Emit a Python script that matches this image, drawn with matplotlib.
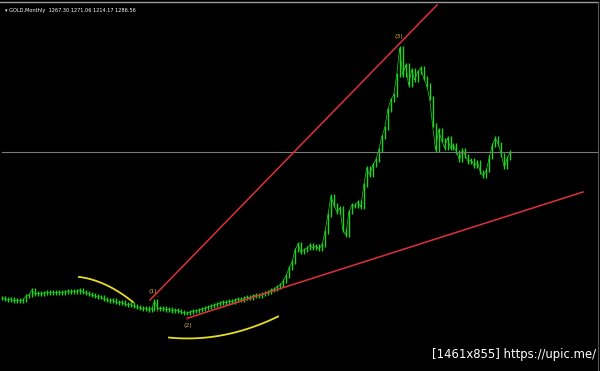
import matplotlib
matplotlib.use("Agg")
import matplotlib.pyplot as plt
import numpy as np

# Fechamentos (aprox.) das barras do GOLD mensal
fechamentos = [
    404, 398, 392, 398, 386, 392, 386, 392, 416, 422,
    452, 428, 434, 428, 434, 440, 434, 440, 434, 440,
    434, 440, 446, 440, 446, 440, 452, 440, 434, 428,
    422, 416, 410, 410, 398, 392, 386, 392, 380, 374,
    380, 368, 362, 368, 356, 350, 344, 338, 344, 332,
    338, 386, 344, 338, 344, 332, 338, 326, 332, 326,
    320, 314, 314, 320, 326, 326, 332, 338, 344, 350,
    356, 362, 368, 374, 380, 374, 386, 380, 392, 398,
    392, 404, 410, 404, 416, 422, 416, 428, 434, 440,
    452, 458, 470, 482, 506, 536, 584, 620, 692, 728,
    680, 692, 704, 722, 704, 716, 698, 722, 800, 902,
    1016, 962, 920, 944, 812, 782, 920, 962, 956, 980,
    950, 1082, 1184, 1142, 1202, 1232, 1292, 1370, 1424, 1532,
    1592, 1622, 1742, 1904, 1742, 1802, 1682, 1772, 1712, 1760,
    1784, 1724, 1682, 1604, 1442, 1292, 1412, 1352, 1304, 1364,
    1304, 1322, 1280, 1232, 1292, 1256, 1220, 1232, 1196, 1220,
    1160, 1136, 1172, 1250, 1322, 1364, 1328, 1262, 1190, 1244,
    1280,
]
preco_atual = 1280
titulo = "GOLD,Monthly  1267.30 1271.06 1214.17 1286.56"
marca = "[1461x855] https://upic.me/"

# Ondas marcadas (barra, preço)
ondas = {"(1)": (50.5, 440), "(2)": (62, 236), "(3)": (132.8, 1970)}
linha_sup = [(49.5, 392), (145.5, 2162)]
linha_inf = [(62.2, 284), (194.3, 1040)]

VERDE = "#1fd21f"
VERMELHO = "#e0303a"
AMARELO = "#e6dc28"
LARANJA = "#d8b040"


def px(x, y):
    """Converte pixel da tela para coordenadas do gráfico."""
    return (x - 2) / 2.99, 2192 - 6 * y


fig = plt.figure(figsize=(6, 3.71), dpi=100, facecolor="black")
ax = fig.add_axes([0, 0, 1, 1])
ax.set_facecolor("black")
ax.set_xlim(-0.67, 200)
ax.set_ylim(2192 - 6 * 371, 2192)
ax.axis("off")

# ── barras ──────────────────────────────────────────────
idx = np.arange(len(fechamentos))
c = np.array(fechamentos, dtype=float)
o = np.concatenate([[c[0]], c[:-1]])
hi = np.maximum(o, c) + 10
lo = np.minimum(o, c) - 10
ax.vlines(idx, lo, hi, color=VERDE, linewidth=1.0)
ax.plot(idx, c, color=VERDE, linewidth=0.5)

# ── linhas de referência ───────────────────────────────
ax.axhline(preco_atual, xmin=0.003, xmax=0.997, color="#7a7a7a", linewidth=0.8)
x0, y0 = px(0, 2.5)
x1, _ = px(598, 2.5)
ax.plot([x0, x1], [y0, y0], color="#9a9a9a", linewidth=1.0)
xr, yb = px(598, 371)
ax.plot([xr, xr], [yb, y0], color="#555555", linewidth=0.8)

# ── tendências ─────────────────────────────────────────
for (xa, ya), (xb, yb2) in (linha_sup, linha_inf):
    ax.plot([xa, xb], [ya, yb2], color=VERMELHO, linewidth=1.1)

# ── curvas amarelas ────────────────────────────────────
curvas = [
    [(79, 277), (100, 282), (110, 287), (120, 293), (133, 302)],
    [(169, 337), (190, 339), (210, 338), (233, 332), (257, 325), (278, 317)],
]
for pts in curvas:
    xs, ys = zip(*[px(a, b) for a, b in pts])
    coef = np.polyfit(xs, ys, 2)
    xx = np.linspace(min(xs), max(xs), 60)
    ax.plot(xx, np.polyval(coef, xx), color=AMARELO, linewidth=1.3)

# ── rótulos das ondas ──────────────────────────────────
for rot, (bx, by) in ondas.items():
    ax.text(bx, by, rot, color=LARANJA, fontsize=4.5, ha="center", va="center")
ax.text(*px(157, 298), "'", color=VERMELHO, fontsize=4.5, ha="center", va="center")
ax.text(*px(157, 312), "•", color=VERMELHO, fontsize=3.5, ha="center", va="center")
ax.text(*px(187, 318), "c", color=VERMELHO, fontsize=4, ha="center", va="center")

# ── textos ─────────────────────────────────────────────
ax.text(0.008, 0.972, "▾ " + titulo, transform=ax.transAxes, color="white",
        fontsize=3.6, ha="left", va="center")
ax.text(0.993, 0.045, marca, transform=ax.transAxes, color="white",
        fontsize=8.4, ha="right", va="center")

fig.savefig("out.png", dpi=100, facecolor="black")
